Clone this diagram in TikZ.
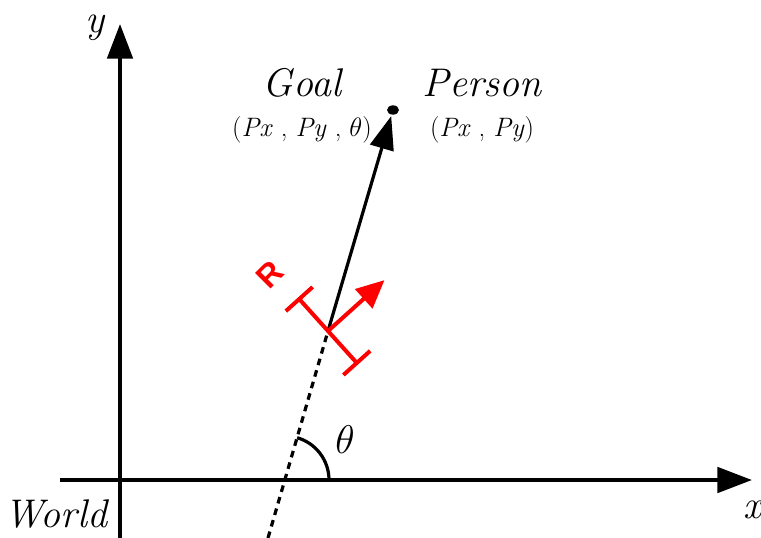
\documentclass[tikz,border=0pt]{standalone}
\usepackage{fix-cm}
\usepackage{xcolor}
\usepackage{fontspec}
\newfontfamily{\serifit}{Latin Modern Roman}
\newfontfamily{\robotfont}{Liberation Sans}
\usepackage{tikz}
\usetikzlibrary{positioning, arrows.meta, shapes.geometric}
\definecolor{robotred}{HTML}{FF0000}
\newcommand{\coordfont}{\fontsize{20}{24}\selectfont}

\tikzset{
  axis/.style={line width=3pt, -{Triangle[length=26pt, width=19pt]}},
  heading/.style={line width=2.4pt, shorten >=1pt, -{Triangle[length=25pt, width=18pt]}},
  trail/.style={line width=2.4pt, dash pattern=on 5pt off 4pt},
  robotline/.style={robotred, line width=3pt},
  lbl/.style={font=\serifit\fontsize{30}{33}\selectfont\itshape, inner sep=1pt},
}

\begin{document}
\begin{tikzpicture}[x=0.75pt, y=-0.75pt]
  \useasboundingbox (0,0) rectangle (761,538);

  % world frame
  \coordinate (xs) at (60,480);
  \coordinate (xe) at (752,480);
  \coordinate (ys) at (120,538);
  \coordinate (ye) at (120,24);
  \draw[axis] (xs) -- (xe);
  \draw[axis] (ys) -- (ye);
  \node[lbl] (xlab) at (752,510) {x};
  \node[lbl] (ylab) at (95,28) {y};
  \node[lbl] (world) at (56,514) {World};

  % person and heading line
  \coordinate (tail) at (268,538);
  \coordinate (cross) at (285,480);
  \coordinate (robot) at (328,331);
  \node[ellipse, fill=black, inner sep=0pt, minimum width=9pt, minimum height=7pt] (person) at (393,110) {};
  \draw[trail] (tail) -- (robot);
  \draw[heading] (robot) -- (person);

  \node[lbl, align=center] (goal) at (302,106)
    {Goal\\[-3pt]{\coordfont\upshape(\textit{Px} , \textit{Py} , $\theta$)}};
  \node[lbl, align=center] (personlab) at (482,106)
    {Person\\[-3pt]{\coordfont\upshape(\textit{Px} , \textit{Py})}};

  % angle
  \coordinate (arcstart) at (329,480);
  \draw[line width=2.4pt] (arcstart) arc[start angle=0, end angle=74, radius=33pt];
  \node[lbl] (theta) at (345,440) {$\theta$};

  % robot
  \begin{scope}[shift={(robot)}, x=0.75pt, y=0.75pt, rotate=42]
    \coordinate (rleft) at (0,45);
    \coordinate (rright) at (0,-45);
    \coordinate (rhead) at (76,0);
    \coordinate (rcenter) at (0,0);
  \end{scope}
  \draw[robotline, {Bar[width=27pt]}-{Bar[width=27pt]}] (rleft) -- (rright);
  \draw[robotline, -{Triangle[length=21pt, width=19pt]}] (rcenter) -- (rhead);
  \node[text=robotred, font=\robotfont\bfseries\fontsize{24}{26}\selectfont, rotate=45] (rlab) at (270,275) {R};
\end{tikzpicture}
\end{document}
